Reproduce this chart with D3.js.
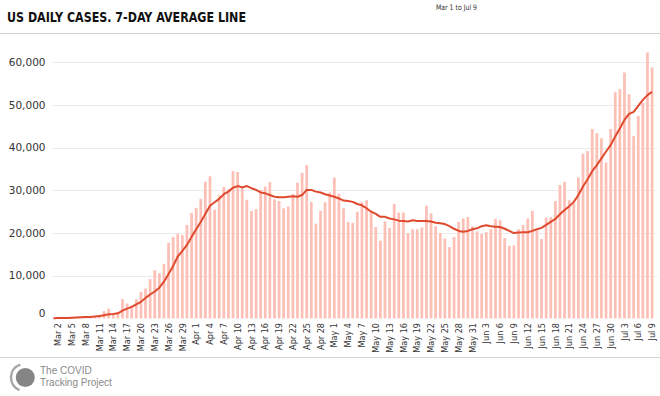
<!DOCTYPE html>
<html>
<head>
<meta charset="utf-8">
<script src="https://cdn.jsdelivr.net/npm/d3@7"></script>
<style>
  body { margin: 0; background: #fff; }
  svg { display: block; font-family: "DejaVu Sans", sans-serif; }
</style>
</head>
<body>
<svg id="canvas" width="660" height="396"></svg>
<script>
// daily new cases, Mar 1 .. Jul 9
let dailyCases = [
	20, 30, 50, 60, 80, 110, 130, 180, 250, 320,
	450, 1700, 2300, 1100, 1300, 4500, 3500, 3000, 4500, 6200,
	7000, 9200, 11300, 10600, 12700, 17700, 19100, 19800, 19500, 21900,
	24700, 25900, 28000, 32000, 33300, 25500, 28900, 30800, 30300, 34500,
	34300, 31000, 27800, 25200, 25600, 30100, 30900, 31900, 27900, 27500,
	25800, 26200, 29100, 31800, 34100, 35900, 27300, 22200, 25200, 27200,
	29500, 33000, 29200, 25800, 22600, 22400, 25000, 27300, 27700, 25000,
	21400, 18200, 22700, 21200, 26800, 24800, 24800, 20000, 20900, 20900,
	21300, 26400, 24600, 21600, 20000, 18750, 16700, 19100, 22600, 23400,
	23750, 21600, 20400, 19800, 20200, 20900, 23300, 23000, 18800, 17000,
	17100, 20900, 21900, 23400, 25200, 20600, 18600, 23600, 23700, 27500,
	31250, 32000, 27700, 27000, 33000, 38600, 39200, 44400, 43400, 42200,
	36500, 44400, 53000, 53700, 57600, 52500, 42700, 47400, 50500, 62300,
	58800
];

// 7-day average line
let weekAverage = [
	50, 70, 100, 120, 150, 200, 250, 300, 350, 450,
	550, 750, 950, 1050, 1200, 1800, 2300, 2700, 3300, 3900,
	4800, 5600, 6300, 7200, 8600, 10400, 12300, 14500, 15800, 17200,
	19100, 20900, 22600, 24500, 26400, 27200, 28000, 29100, 29700, 30600,
	31000, 30700, 31000, 30500, 30100, 29500, 29300, 28900, 28500, 28400,
	28400, 28500, 28600, 28500, 28900, 30100, 30100, 29700, 29500, 29100,
	28800, 28500, 28100, 27600, 27500, 27300, 26800, 26500, 25800, 25000,
	24500, 23800, 23800, 23400, 23200, 22900, 22800, 22700, 23000, 22800,
	22800, 22800, 22700, 22400, 22300, 22100, 21600, 21000, 20500, 20300,
	20500, 20900, 21100, 21600, 21800, 21600, 21500, 21400, 21000, 20500,
	20000, 20100, 20200, 20200, 20500, 20900, 21200, 21900, 22600, 23300,
	24400, 25400, 26250, 27300, 28900, 30900, 32600, 34500, 35900, 37500,
	39100, 40600, 42600, 44500, 46500, 47900, 48400, 49800, 51200, 52300,
	53100
];

let tickLabels = [
	'Mar 2', 'Mar 5', 'Mar 8', 'Mar 11', 'Mar 14', 'Mar 17', 'Mar 20', 'Mar 23', 'Mar 26', 'Mar 29',
	'Apr 1', 'Apr 4', 'Apr 7', 'Apr 10', 'Apr 13', 'Apr 16', 'Apr 19', 'Apr 22', 'Apr 25', 'Apr 28',
	'May 1', 'May 4', 'May 7', 'May 10', 'May 13', 'May 16', 'May 19', 'May 22', 'May 25', 'May 28',
	'May 31', 'Jun 3', 'Jun 6', 'Jun 9', 'Jun 12', 'Jun 15', 'Jun 18', 'Jun 21', 'Jun 24', 'Jun 27',
	'Jun 30', 'Jul 3', 'Jul 6', 'Jul 9'
];

let yTicks = [0, 10000, 20000, 30000, 40000, 50000, 60000];

let formatDay = d3.timeFormat('%b %-d');
let days = d3.timeDay.range(new Date(2020, 2, 1), new Date(2020, 6, 10)).map(formatDay);

let canvas = d3.select('#canvas');

// header
canvas.append('text')
	.attr('x', 7).attr('y', 22)
	.attr('font-family', '"DejaVu Sans Condensed", "DejaVu Sans", sans-serif')
	.attr('font-weight', 'bold').attr('font-size', 13.5)
	.attr('textLength', 239).attr('lengthAdjust', 'spacingAndGlyphs')
	.attr('fill', '#111')
	.text('US DAILY CASES. 7-DAY AVERAGE LINE');
canvas.append('text')
	.attr('x', 436).attr('y', 9.5)
	.attr('font-family', '"DejaVu Sans Condensed", "DejaVu Sans", sans-serif')
	.attr('font-size', 7.5)
	.attr('textLength', 41).attr('lengthAdjust', 'spacingAndGlyphs')
	.attr('fill', '#333')
	.text('Mar 1 to Jul 9');
canvas.append('line')
	.attr('x1', 0).attr('x2', 660).attr('y1', 33.5).attr('y2', 33.5)
	.attr('stroke', '#d4d4d4').attr('stroke-width', 1);

// scales
let xScale = d3.scaleBand()
	.domain(days)
	.range([50.2, 655.3])
	.paddingInner(0.4)
	.paddingOuter(0.4);
let yScale = d3.scaleLinear()
	.domain([0, 60000])
	.range([318.4, 62.3]);

// gridlines + y labels
let grid = canvas.append('g');
grid.selectAll('line')
	.data(yTicks.filter((t) => t > 0))
	.enter()
	.append('line')
	.attr('x1', 51.5).attr('x2', 657)
	.attr('y1', (t) => Math.round(yScale(t)) + 0.5)
	.attr('y2', (t) => Math.round(yScale(t)) + 0.5)
	.attr('stroke', '#ebebeb');
grid.selectAll('text')
	.data(yTicks)
	.enter()
	.append('text')
	.attr('x', 45.5)
	.attr('y', (t) => yScale(t) - (t === 0 ? 5.5 : 0))
	.attr('dy', '0.35em')
	.attr('text-anchor', 'end')
	.attr('font-size', 10.5)
	.attr('fill', '#333')
	.text((t) => d3.format(',')(t));

// bars
canvas.append('g')
	.selectAll('rect')
	.data(dailyCases)
	.enter()
	.append('rect')
	.attr('x', (d, i) => xScale(days[i]))
	.attr('y', (d) => yScale(d))
	.attr('width', xScale.bandwidth())
	.attr('height', (d) => yScale(0) - yScale(d))
	.attr('fill', '#fdc0b6');

// average line
let avgLine = d3.line()
	.x((d, i) => xScale(days[i]) + xScale.bandwidth() / 2)
	.y((d) => yScale(d));
canvas.append('path')
	.datum(weekAverage)
	.attr('d', avgLine)
	.attr('fill', 'none')
	.attr('stroke', '#df4a2e')
	.attr('stroke-width', 2)
	.attr('stroke-linejoin', 'round');

// x axis labels (rotated)
canvas.append('g')
	.selectAll('text')
	.data(tickLabels)
	.enter()
	.append('text')
	.attr('transform', (lbl) => {
		let cx = xScale(lbl) + xScale.bandwidth() / 2;
		return `translate(${cx}, 323) rotate(-90)`;
	})
	.attr('dy', '0.35em')
	.attr('text-anchor', 'end')
	.attr('font-family', '"DejaVu Sans Condensed", "DejaVu Sans", sans-serif')
	.attr('font-size', 9)
	.attr('fill', '#333')
	.text((lbl) => lbl);

// footer
canvas.append('line')
	.attr('x1', 0).attr('x2', 660).attr('y1', 357.5).attr('y2', 357.5)
	.attr('stroke', '#d4d4d4').attr('stroke-width', 1);
let logo = canvas.append('g').attr('transform', 'translate(24.5, 377.5)');
logo.append('path')
	.attr('d', d3.arc()({ innerRadius: 12.3, outerRadius: 14.8, startAngle: -Math.PI * 0.88, endAngle: -Math.PI * 0.1, cornerRadius: 1.2 }))
	.attr('fill', '#a8a8a8');
logo.append('circle')
	.attr('cx', 0.8).attr('cy', 0).attr('r', 9.5)
	.attr('fill', '#858585');
logo.append('text')
	.attr('x', 15.5).attr('y', -3.5)
	.attr('font-family', '"Liberation Sans", sans-serif')
	.attr('font-size', 10).attr('fill', '#8a8a8a')
	.text('The COVID');
logo.append('text')
	.attr('x', 15.5).attr('y', 8)
	.attr('font-family', '"Liberation Sans", sans-serif')
	.attr('font-size', 10).attr('fill', '#8a8a8a')
	.text('Tracking Project');
</script>
</body>
</html>
